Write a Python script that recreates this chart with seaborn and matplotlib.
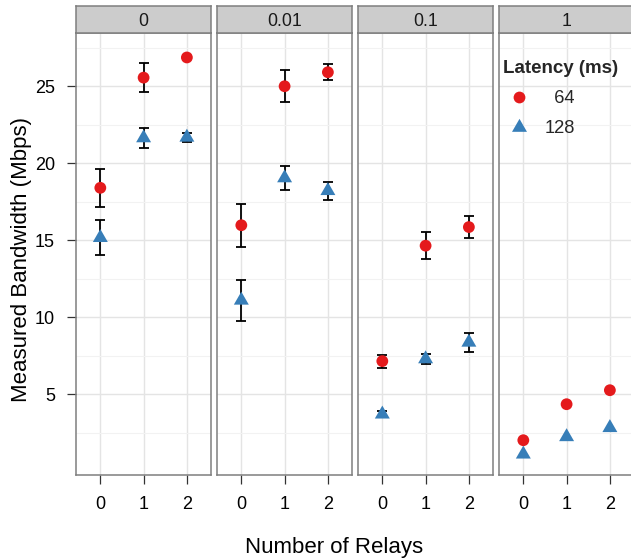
import numpy as np
import pandas as pd
import matplotlib
matplotlib.use("Agg")
import matplotlib.pyplot as plt
import matplotlib.lines as mlines
from matplotlib.path import Path
from matplotlib.ticker import FixedLocator
import seaborn as sns

# ---------------- data ----------------
panels = ["0", "0.01", "0.1", "1"]
relays = [0, 1, 2]
latencies = ["64", "128"]
bw_64 = [[18.41, 25.57, 26.88], [15.98, 25.01, 25.92], [7.15, 14.65, 15.86], [2.01, 4.35, 5.26]]
err_64 = [[1.25, 0.94, 0.0], [1.40, 1.03, 0.53], [0.43, 0.86, 0.72], [0.0, 0.0, 0.0]]
bw_128 = [[15.17, 21.65, 21.69], [11.10, 19.05, 18.22], [3.70, 7.29, 8.37], [1.10, 2.23, 2.82]]
err_128 = [[1.13, 0.65, 0.30], [1.35, 0.76, 0.60], [0.20, 0.35, 0.62], [0.0, 0.0, 0.0]]
y_ticks = [5, 10, 15, 20, 25]
legend_title = "Latency (ms)"
x_title = "Number of Relays"
y_title = "Measured Bandwidth (Mbps)"

rows = []
for pi, p in enumerate(panels):
    for ri, r in enumerate(relays):
        rows.append(dict(panel=p, relays=r, latency="64", bw=bw_64[pi][ri], err=err_64[pi][ri]))
        rows.append(dict(panel=p, relays=r, latency="128", bw=bw_128[pi][ri], err=err_128[pi][ri]))
df = pd.DataFrame(rows)

# ---------------- style ----------------
sns.set_style("white")
plt.rcParams["font.family"] = ["Liberation Sans", "DejaVu Sans"]

RED = "#E41A1C"
BLUE = "#377EB8"
palette = {"64": RED, "128": BLUE}
tri = Path([(0, 1.155), (-1, -0.577), (1, -0.577), (0, 1.155)],
           [Path.MOVETO, Path.LINETO, Path.LINETO, Path.CLOSEPOLY])
markers = {"64": "o", "128": tri}
sizes = {"64": 72, "128": 155}

W, H = 631, 558
fig = plt.figure(figsize=(W / 100, H / 100), dpi=100)

panel_left = [76.3, 217.3, 358.3, 499.3]
panel_w = 134.6
top_px, bot_px, strip_top = 33.3, 474.7, 6.0
BORDER = "#7F7F7F"

axes = []
for i, p in enumerate(panels):
    ax = fig.add_axes([panel_left[i] / W, 1 - bot_px / H, panel_w / W, (bot_px - top_px) / H])
    axes.append(ax)
    sub = df[df.panel == p]
    se = sub[sub.err > 0]
    ax.errorbar(se.relays, se.bw, yerr=se.err, fmt="none", ecolor="black",
                elinewidth=1.3, capsize=3.3, capthick=1.3, zorder=2)
    sns.scatterplot(data=sub, x="relays", y="bw", hue="latency", style="latency",
                    size="latency", hue_order=latencies, style_order=latencies,
                    size_order=latencies, palette=palette, markers=markers,
                    sizes=sizes, linewidth=0, edgecolor="none", legend=False,
                    ax=ax, zorder=3)
    ax.set_xlim(-0.555, 2.555)
    ax.set_ylim(-0.23, 28.45)
    ax.set_xticks(relays)
    ax.set_xticklabels([str(r) for r in relays])
    ax.set_yticks(y_ticks)
    ax.yaxis.set_minor_locator(FixedLocator([t - 2.5 for t in y_ticks] + [y_ticks[-1] + 2.5]))
    ax.set_xlabel("")
    ax.set_ylabel("")
    ax.set_axisbelow(True)
    ax.grid(which="major", color="#E4E4E4", linewidth=1.0)
    ax.grid(which="minor", axis="y", color="#F2F2F2", linewidth=0.8)
    ax.tick_params(axis="both", which="major", length=6.3, width=0.9, color="#333333",
                   pad=9, labelsize=13, labelcolor="black")
    ax.tick_params(axis="both", which="minor", length=0)
    ax.tick_params(axis="y", left=True)
    ax.tick_params(axis="x", bottom=True)
    if i > 0:
        ax.tick_params(axis="y", left=False, labelleft=False)
    for s in ax.spines.values():
        s.set_color(BORDER)
        s.set_linewidth(1.1)
        s.set_visible(True)

    sax = fig.add_axes([panel_left[i] / W, 1 - top_px / H, panel_w / W, (top_px - strip_top) / H])
    sax.set_facecolor("#CCCCCC")
    sax.set_xticks([])
    sax.set_yticks([])
    for s in sax.spines.values():
        s.set_color(BORDER)
        s.set_linewidth(1.1)
    sax.text(0.5, 0.45, p, ha="center", va="center", fontsize=12.8, color="#1A1A1A",
             transform=sax.transAxes)

# legend inside the last panel
handles = [
    mlines.Line2D([], [], linestyle="none", marker="o", markersize=np.sqrt(sizes["64"]),
                  markerfacecolor=RED, markeredgewidth=0),
    mlines.Line2D([], [], linestyle="none", marker=tri, markersize=np.sqrt(sizes["128"]),
                  markerfacecolor=BLUE, markeredgewidth=0),
]
labels = ["  " + latencies[0], latencies[1]]
leg = axes[-1].legend(handles, labels, title=legend_title, loc="upper left",
                      bbox_to_anchor=(503 / W, 1 - 60 / H), bbox_transform=fig.transFigure,
                      frameon=False, fontsize=13.2, borderpad=0, borderaxespad=0,
                      handlelength=1.75, handletextpad=0.5, labelspacing=0.72,
                      title_fontproperties={"weight": "bold", "size": 13.5},
                      alignment="left")

fig.text(334 / W, 1 - 553.5 / H, x_title, ha="center", va="baseline", fontsize=16, color="black")
fig.text(21.5 / W, 1 - 259 / H, y_title, ha="center", va="center", rotation=90,
         fontsize=16, color="black")

fig.savefig("out.png", dpi=100, facecolor="white")
